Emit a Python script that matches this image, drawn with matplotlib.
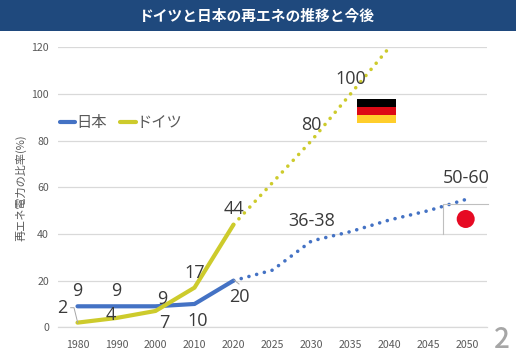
import matplotlib
matplotlib.use('Agg')
import matplotlib.pyplot as plt
from matplotlib.patches import Rectangle, Circle
from matplotlib.lines import Line2D

plt.rcParams['font.family'] = ['Noto Sans CJK JP', 'DejaVu Sans']

W, H = 516, 357

years = ['1980', '1990', '2000', '2010', '2020', '2025', '2030', '2035', '2040', '2045', '2050']
positions = list(range(len(years)))

japan_actual = [9, 9, 9, 10, 20]
japan_target = [20, 24.5, 37, 41, 46, 50, 55]
germany_actual = [2, 4, 7, 17, 44]
germany_target = [44, 62, 80, 100, 120]

y_ticks = [0, 20, 40, 60, 80, 100, 120]

title = 'ドイツと日本の再エネの推移と今後'
y_label = '再エネ電力の比率(%)'

BLUE = '#4472C4'
YELLOW = '#CDCB2C'
GRID = '#D9D9D9'
TICK = '#595959'
LABEL = '#3A3A3A'


def fx(px):
    return px / W


def fy(py):
    return 1 - py / H


def to_fig(x0, y0, x1, y1, **kw):
    return Rectangle((fx(x0), fy(y1)), (x1 - x0) / W, (y1 - y0) / H,
                     transform=fig.transFigure, **kw)


fig = plt.figure(figsize=(W / 100, H / 100), dpi=100, facecolor='white')

# header bar
fig.add_artist(to_fig(0, 0, W, 31, facecolor='#1F497D', edgecolor='none'))
fig.text(fx(257), fy(15), title, color='white', fontsize=10.6, fontweight='bold',
         ha='center', va='center')

ax = fig.add_axes([fx(58), fy(327.3), (487 - 58) / W, (327.3 - 47.3) / H])
ax.set_xlim(-0.5, len(years) - 0.5)
ax.set_ylim(0, 120)
ax.set_facecolor('none')

for s in ['top', 'right', 'left']:
    ax.spines[s].set_visible(False)
ax.spines['bottom'].set_color(GRID)
ax.spines['bottom'].set_linewidth(0.9)
ax.set_yticks(y_ticks)
ax.set_xticks(positions, years)
ax.tick_params(length=0, labelsize=7.6, labelcolor=TICK)
ax.tick_params(axis='x', pad=9)
ax.tick_params(axis='y', pad=6.5)
ax.grid(True, axis='y', color=GRID, linewidth=0.9)
ax.set_axisbelow(True)
fig.text(fx(21), fy(188), y_label, rotation=90, fontsize=8, color=TICK,
         ha='center', va='center')

dots = (0, (0.01, 2.2))
ax.plot(positions[4:], japan_target, color=BLUE, lw=2.6, ls=dots, dash_capstyle='round')
ax.plot(positions[4:9], germany_target, color=YELLOW, lw=2.6, ls=dots, dash_capstyle='round')
ax.plot(positions[:5], japan_actual, color=BLUE, lw=3, solid_capstyle='round', solid_joinstyle='miter')
ax.plot(positions[:5], germany_actual, color=YELLOW, lw=3, solid_capstyle='round', solid_joinstyle='miter')

# data labels, offsets in pixels from their point
japan_labels = [('9', 0, 9, 0, 15), ('9', 1, 9, 0, 15), ('9', 2, 9, 7, 7), ('10', 3, 10, 3, -17),
                ('20', 4, 20, 6, -16), ('36-38', 6, 37, 0, 20), ('50-60', 10, 55, -1, 21)]
germany_labels = [('2', 0, 2, -15, 15), ('4', 1, 4, -6, 3), ('7', 2, 7, 9, -12), ('17', 3, 17, 0, 15),
                  ('44', 4, 44, 0, 16), ('80', 6, 80, 0, 16), ('100', 7, 100, 0, 15)]
for txt, i, v, dx, dy in japan_labels + germany_labels:
    ax.annotate(txt, xy=(i, v), xytext=(dx, dy), textcoords='offset pixels', fontsize=13,
                family='Open Sans', color=LABEL, ha='center', va='center',
                annotation_clip=False, zorder=6)

# leader lines
for xs, ys in [([70.7, 74, 77.7], [307.7, 307.7, 322.7]), ([234, 239], [280, 284])]:
    fig.add_artist(Line2D([fx(p) for p in xs], [fy(p) for p in ys], color='#A6A6A6', lw=0.7))

# legend
handles = [Line2D([], [], color=BLUE, lw=3, solid_capstyle='round'),
           Line2D([], [], color=YELLOW, lw=3, solid_capstyle='round')]
ax.legend(handles, ['日本', 'ドイツ'], ncol=2, frameon=False, fontsize=11, labelcolor=TICK,
          loc='center left', bbox_to_anchor=(2 / 429, (327.3 - 122.5) / 280),
          borderpad=0, borderaxespad=0, handlelength=1.0, handletextpad=0.05, columnspacing=0.9)

# flags
fig.add_artist(to_fig(357, 99, 396, 107, facecolor='black', edgecolor='none'))
fig.add_artist(to_fig(357, 107, 396, 115, facecolor='#DD0A15', edgecolor='none'))
fig.add_artist(to_fig(357, 115, 396, 123, facecolor='#FFCE2B', edgecolor='none'))
fig.add_artist(Line2D([fx(443.3), fx(443.3), fx(488)], [fy(234), fy(204.3), fy(204.3)], color='#BFBFBF', lw=0.8))
fig.add_artist(Circle((465.7, H - 219), 9, transform=None, facecolor='#E60A23', edgecolor='none'))

# slide number
fig.text(fx(502), fy(340), '2', fontsize=20, fontweight='medium', color='#A6A6A6', ha='center', va='center')

fig.savefig('out.png', dpi=100)
plt.close(fig)
